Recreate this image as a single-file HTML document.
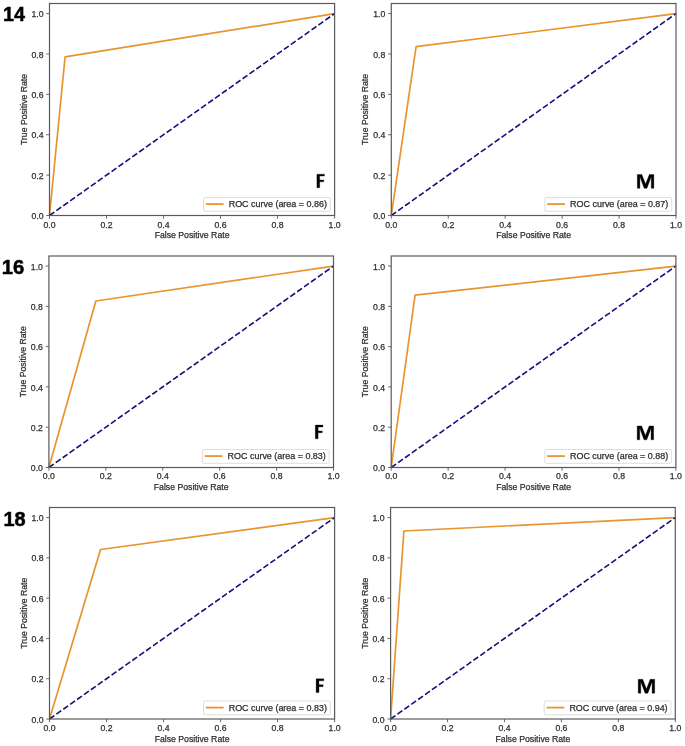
<!DOCTYPE html>
<html><head><meta charset="utf-8"><title>ROC curves</title>
<style>
html,body{margin:0;padding:0;background:#fff;}
body{width:685px;height:746px;overflow:hidden;}
svg{display:block;will-change:transform;}
svg text{font-family:"Liberation Sans",sans-serif;font-size:8.7px;fill:#2e2e2e;stroke:#2e2e2e;stroke-width:0.25px;}
svg text.big{font-weight:bold;fill:#000;stroke:#000;stroke-width:0.5px;}
</style></head><body>
<svg width="685" height="746" viewBox="0 0 685 746">
<rect width="685" height="746" fill="#fff"/>
<g><polyline points="49.5,215.5 65.1,56.9 334.6,13.60" fill="none" stroke="#e8942f" stroke-width="1.7" stroke-linejoin="round"/>
<line x1="49.5" y1="215.5" x2="334.6" y2="13.60" stroke="#10107a" stroke-width="1.6" stroke-dasharray="5.9 2.55"/>
<rect x="49.5" y="3.5" width="285.10" height="212.00" fill="none" stroke="#5a5a5a" stroke-width="1.2"/>
<line x1="49.50" y1="215.5" x2="49.50" y2="218.70" stroke="#5a5a5a" stroke-width="0.9"/>
<text x="49.50" y="227.50" text-anchor="middle">0.0</text>
<line x1="46.30" y1="215.50" x2="49.5" y2="215.50" stroke="#5a5a5a" stroke-width="0.9"/>
<text x="43.50" y="219.10" text-anchor="end">0.0</text>
<line x1="106.52" y1="215.5" x2="106.52" y2="218.70" stroke="#5a5a5a" stroke-width="0.9"/>
<text x="106.52" y="227.50" text-anchor="middle">0.2</text>
<line x1="46.30" y1="175.12" x2="49.5" y2="175.12" stroke="#5a5a5a" stroke-width="0.9"/>
<text x="43.50" y="178.72" text-anchor="end">0.2</text>
<line x1="163.54" y1="215.5" x2="163.54" y2="218.70" stroke="#5a5a5a" stroke-width="0.9"/>
<text x="163.54" y="227.50" text-anchor="middle">0.4</text>
<line x1="46.30" y1="134.74" x2="49.5" y2="134.74" stroke="#5a5a5a" stroke-width="0.9"/>
<text x="43.50" y="138.34" text-anchor="end">0.4</text>
<line x1="220.56" y1="215.5" x2="220.56" y2="218.70" stroke="#5a5a5a" stroke-width="0.9"/>
<text x="220.56" y="227.50" text-anchor="middle">0.6</text>
<line x1="46.30" y1="94.36" x2="49.5" y2="94.36" stroke="#5a5a5a" stroke-width="0.9"/>
<text x="43.50" y="97.96" text-anchor="end">0.6</text>
<line x1="277.58" y1="215.5" x2="277.58" y2="218.70" stroke="#5a5a5a" stroke-width="0.9"/>
<text x="277.58" y="227.50" text-anchor="middle">0.8</text>
<line x1="46.30" y1="53.98" x2="49.5" y2="53.98" stroke="#5a5a5a" stroke-width="0.9"/>
<text x="43.50" y="57.58" text-anchor="end">0.8</text>
<line x1="334.60" y1="215.5" x2="334.60" y2="218.70" stroke="#5a5a5a" stroke-width="0.9"/>
<text x="334.60" y="227.50" text-anchor="middle">1.0</text>
<line x1="46.30" y1="13.60" x2="49.5" y2="13.60" stroke="#5a5a5a" stroke-width="0.9"/>
<text x="43.50" y="17.20" text-anchor="end">1.0</text>
<text x="192.05" y="238.00" text-anchor="middle">False Positive Rate</text>
<text transform="translate(26.60,109.50) rotate(-90)" text-anchor="middle">True Positive Rate</text>
<rect x="203.50" y="197.50" width="126.80" height="13.80" rx="1.6" fill="#fff" fill-opacity="0.8" stroke="#d6d6d6" stroke-width="0.8"/>
<line x1="205.80" y1="204.10" x2="223.60" y2="204.10" stroke="#e8942f" stroke-width="1.8"/>
<text x="228.70" y="207.10" textLength="98.2" lengthAdjust="spacingAndGlyphs">ROC curve (area = 0.86)</text>
<path d="M316.90,174.15 L324.45,174.15 L324.45,176.11 L319.69,176.11 L319.69,179.92 L323.77,179.92 L323.77,181.87 L319.69,181.87 L319.69,187.75 L316.90,187.75Z" fill="#000" stroke="#000" stroke-width="0.3" stroke-linejoin="round"/>
<text class="big" x="2.92" y="20.75" textLength="21.98" lengthAdjust="spacingAndGlyphs" style="font-size:19.91px">14</text></g>
<g><polyline points="391.3,215.5 416.1,46.7 676.0,13.60" fill="none" stroke="#e8942f" stroke-width="1.7" stroke-linejoin="round"/>
<line x1="391.3" y1="215.5" x2="676.0" y2="13.60" stroke="#10107a" stroke-width="1.6" stroke-dasharray="5.9 2.55"/>
<rect x="391.3" y="3.5" width="284.70" height="212.00" fill="none" stroke="#5a5a5a" stroke-width="1.2"/>
<line x1="391.30" y1="215.5" x2="391.30" y2="218.70" stroke="#5a5a5a" stroke-width="0.9"/>
<text x="391.30" y="227.50" text-anchor="middle">0.0</text>
<line x1="388.10" y1="215.50" x2="391.3" y2="215.50" stroke="#5a5a5a" stroke-width="0.9"/>
<text x="385.30" y="219.10" text-anchor="end">0.0</text>
<line x1="448.24" y1="215.5" x2="448.24" y2="218.70" stroke="#5a5a5a" stroke-width="0.9"/>
<text x="448.24" y="227.50" text-anchor="middle">0.2</text>
<line x1="388.10" y1="175.12" x2="391.3" y2="175.12" stroke="#5a5a5a" stroke-width="0.9"/>
<text x="385.30" y="178.72" text-anchor="end">0.2</text>
<line x1="505.18" y1="215.5" x2="505.18" y2="218.70" stroke="#5a5a5a" stroke-width="0.9"/>
<text x="505.18" y="227.50" text-anchor="middle">0.4</text>
<line x1="388.10" y1="134.74" x2="391.3" y2="134.74" stroke="#5a5a5a" stroke-width="0.9"/>
<text x="385.30" y="138.34" text-anchor="end">0.4</text>
<line x1="562.12" y1="215.5" x2="562.12" y2="218.70" stroke="#5a5a5a" stroke-width="0.9"/>
<text x="562.12" y="227.50" text-anchor="middle">0.6</text>
<line x1="388.10" y1="94.36" x2="391.3" y2="94.36" stroke="#5a5a5a" stroke-width="0.9"/>
<text x="385.30" y="97.96" text-anchor="end">0.6</text>
<line x1="619.06" y1="215.5" x2="619.06" y2="218.70" stroke="#5a5a5a" stroke-width="0.9"/>
<text x="619.06" y="227.50" text-anchor="middle">0.8</text>
<line x1="388.10" y1="53.98" x2="391.3" y2="53.98" stroke="#5a5a5a" stroke-width="0.9"/>
<text x="385.30" y="57.58" text-anchor="end">0.8</text>
<line x1="676.00" y1="215.5" x2="676.00" y2="218.70" stroke="#5a5a5a" stroke-width="0.9"/>
<text x="676.00" y="227.50" text-anchor="middle">1.0</text>
<line x1="388.10" y1="13.60" x2="391.3" y2="13.60" stroke="#5a5a5a" stroke-width="0.9"/>
<text x="385.30" y="17.20" text-anchor="end">1.0</text>
<text x="533.65" y="238.00" text-anchor="middle">False Positive Rate</text>
<text transform="translate(368.40,109.50) rotate(-90)" text-anchor="middle">True Positive Rate</text>
<rect x="544.90" y="197.50" width="126.80" height="13.80" rx="1.6" fill="#fff" fill-opacity="0.8" stroke="#d6d6d6" stroke-width="0.8"/>
<line x1="547.20" y1="204.10" x2="565.00" y2="204.10" stroke="#e8942f" stroke-width="1.8"/>
<text x="570.10" y="207.10" textLength="98.2" lengthAdjust="spacingAndGlyphs">ROC curve (area = 0.87)</text>
<path d="M637.30,188.35 L637.30,174.45 L641.82,174.45 L645.58,184.04 L649.33,174.45 L653.85,174.45 L653.85,188.35 L651.25,188.35 L651.25,176.83 L646.98,188.35 L644.17,188.35 L639.90,176.83 L639.90,188.35Z" fill="#000" stroke="#000" stroke-width="0.3" stroke-linejoin="round"/></g>
<g><polyline points="48.9,467.5 95.86,301.0 333.5,266.07" fill="none" stroke="#e8942f" stroke-width="1.7" stroke-linejoin="round"/>
<line x1="48.9" y1="467.5" x2="333.5" y2="266.07" stroke="#10107a" stroke-width="1.6" stroke-dasharray="5.9 2.55"/>
<rect x="48.9" y="256.0" width="284.60" height="211.50" fill="none" stroke="#5a5a5a" stroke-width="1.2"/>
<line x1="48.90" y1="467.5" x2="48.90" y2="470.70" stroke="#5a5a5a" stroke-width="0.9"/>
<text x="48.90" y="478.70" text-anchor="middle">0.0</text>
<line x1="45.70" y1="467.50" x2="48.9" y2="467.50" stroke="#5a5a5a" stroke-width="0.9"/>
<text x="42.90" y="471.10" text-anchor="end">0.0</text>
<line x1="105.82" y1="467.5" x2="105.82" y2="470.70" stroke="#5a5a5a" stroke-width="0.9"/>
<text x="105.82" y="478.70" text-anchor="middle">0.2</text>
<line x1="45.70" y1="427.21" x2="48.9" y2="427.21" stroke="#5a5a5a" stroke-width="0.9"/>
<text x="42.90" y="430.81" text-anchor="end">0.2</text>
<line x1="162.74" y1="467.5" x2="162.74" y2="470.70" stroke="#5a5a5a" stroke-width="0.9"/>
<text x="162.74" y="478.70" text-anchor="middle">0.4</text>
<line x1="45.70" y1="386.93" x2="48.9" y2="386.93" stroke="#5a5a5a" stroke-width="0.9"/>
<text x="42.90" y="390.53" text-anchor="end">0.4</text>
<line x1="219.66" y1="467.5" x2="219.66" y2="470.70" stroke="#5a5a5a" stroke-width="0.9"/>
<text x="219.66" y="478.70" text-anchor="middle">0.6</text>
<line x1="45.70" y1="346.64" x2="48.9" y2="346.64" stroke="#5a5a5a" stroke-width="0.9"/>
<text x="42.90" y="350.24" text-anchor="end">0.6</text>
<line x1="276.58" y1="467.5" x2="276.58" y2="470.70" stroke="#5a5a5a" stroke-width="0.9"/>
<text x="276.58" y="478.70" text-anchor="middle">0.8</text>
<line x1="45.70" y1="306.36" x2="48.9" y2="306.36" stroke="#5a5a5a" stroke-width="0.9"/>
<text x="42.90" y="309.96" text-anchor="end">0.8</text>
<line x1="333.50" y1="467.5" x2="333.50" y2="470.70" stroke="#5a5a5a" stroke-width="0.9"/>
<text x="333.50" y="478.70" text-anchor="middle">1.0</text>
<line x1="45.70" y1="266.07" x2="48.9" y2="266.07" stroke="#5a5a5a" stroke-width="0.9"/>
<text x="42.90" y="269.67" text-anchor="end">1.0</text>
<text x="191.20" y="489.50" text-anchor="middle">False Positive Rate</text>
<text transform="translate(26.00,361.75) rotate(-90)" text-anchor="middle">True Positive Rate</text>
<rect x="202.40" y="449.50" width="126.80" height="13.80" rx="1.6" fill="#fff" fill-opacity="0.8" stroke="#d6d6d6" stroke-width="0.8"/>
<line x1="204.70" y1="456.10" x2="222.50" y2="456.10" stroke="#e8942f" stroke-width="1.8"/>
<text x="227.60" y="459.10" textLength="98.2" lengthAdjust="spacingAndGlyphs">ROC curve (area = 0.83)</text>
<path d="M315.30,425.10 L322.95,425.10 L322.95,427.07 L318.12,427.07 L318.12,430.89 L322.26,430.89 L322.26,432.85 L318.12,432.85 L318.12,438.75 L315.30,438.75Z" fill="#000" stroke="#000" stroke-width="0.3" stroke-linejoin="round"/>
<text class="big" x="1.84" y="273.85" textLength="22.58" lengthAdjust="spacingAndGlyphs" style="font-size:20.34px">16</text></g>
<g><polyline points="391.2,467.5 415.1,295.2 675.9,266.07" fill="none" stroke="#e8942f" stroke-width="1.7" stroke-linejoin="round"/>
<line x1="391.2" y1="467.5" x2="675.9" y2="266.07" stroke="#10107a" stroke-width="1.6" stroke-dasharray="5.9 2.55"/>
<rect x="391.2" y="256.0" width="284.70" height="211.50" fill="none" stroke="#5a5a5a" stroke-width="1.2"/>
<line x1="391.20" y1="467.5" x2="391.20" y2="470.70" stroke="#5a5a5a" stroke-width="0.9"/>
<text x="391.20" y="478.70" text-anchor="middle">0.0</text>
<line x1="388.00" y1="467.50" x2="391.2" y2="467.50" stroke="#5a5a5a" stroke-width="0.9"/>
<text x="385.20" y="471.10" text-anchor="end">0.0</text>
<line x1="448.14" y1="467.5" x2="448.14" y2="470.70" stroke="#5a5a5a" stroke-width="0.9"/>
<text x="448.14" y="478.70" text-anchor="middle">0.2</text>
<line x1="388.00" y1="427.21" x2="391.2" y2="427.21" stroke="#5a5a5a" stroke-width="0.9"/>
<text x="385.20" y="430.81" text-anchor="end">0.2</text>
<line x1="505.08" y1="467.5" x2="505.08" y2="470.70" stroke="#5a5a5a" stroke-width="0.9"/>
<text x="505.08" y="478.70" text-anchor="middle">0.4</text>
<line x1="388.00" y1="386.93" x2="391.2" y2="386.93" stroke="#5a5a5a" stroke-width="0.9"/>
<text x="385.20" y="390.53" text-anchor="end">0.4</text>
<line x1="562.02" y1="467.5" x2="562.02" y2="470.70" stroke="#5a5a5a" stroke-width="0.9"/>
<text x="562.02" y="478.70" text-anchor="middle">0.6</text>
<line x1="388.00" y1="346.64" x2="391.2" y2="346.64" stroke="#5a5a5a" stroke-width="0.9"/>
<text x="385.20" y="350.24" text-anchor="end">0.6</text>
<line x1="618.96" y1="467.5" x2="618.96" y2="470.70" stroke="#5a5a5a" stroke-width="0.9"/>
<text x="618.96" y="478.70" text-anchor="middle">0.8</text>
<line x1="388.00" y1="306.36" x2="391.2" y2="306.36" stroke="#5a5a5a" stroke-width="0.9"/>
<text x="385.20" y="309.96" text-anchor="end">0.8</text>
<line x1="675.90" y1="467.5" x2="675.90" y2="470.70" stroke="#5a5a5a" stroke-width="0.9"/>
<text x="675.90" y="478.70" text-anchor="middle">1.0</text>
<line x1="388.00" y1="266.07" x2="391.2" y2="266.07" stroke="#5a5a5a" stroke-width="0.9"/>
<text x="385.20" y="269.67" text-anchor="end">1.0</text>
<text x="533.55" y="489.50" text-anchor="middle">False Positive Rate</text>
<text transform="translate(368.30,361.75) rotate(-90)" text-anchor="middle">True Positive Rate</text>
<rect x="544.80" y="449.50" width="126.80" height="13.80" rx="1.6" fill="#fff" fill-opacity="0.8" stroke="#d6d6d6" stroke-width="0.8"/>
<line x1="547.10" y1="456.10" x2="564.90" y2="456.10" stroke="#e8942f" stroke-width="1.8"/>
<text x="570.00" y="459.10" textLength="98.2" lengthAdjust="spacingAndGlyphs">ROC curve (area = 0.88)</text>
<path d="M637.15,439.85 L637.15,425.95 L641.65,425.95 L645.40,435.54 L649.15,425.95 L653.65,425.95 L653.65,439.85 L651.06,439.85 L651.06,428.33 L646.80,439.85 L644.00,439.85 L639.74,428.33 L639.74,439.85Z" fill="#000" stroke="#000" stroke-width="0.3" stroke-linejoin="round"/></g>
<g><polyline points="49.5,719.0 100.55,549.5 334.6,517.57" fill="none" stroke="#e8942f" stroke-width="1.7" stroke-linejoin="round"/>
<line x1="49.5" y1="719.0" x2="334.6" y2="517.57" stroke="#10107a" stroke-width="1.6" stroke-dasharray="5.9 2.55"/>
<rect x="49.5" y="507.5" width="285.10" height="211.50" fill="none" stroke="#5a5a5a" stroke-width="1.2"/>
<line x1="49.50" y1="719.0" x2="49.50" y2="722.20" stroke="#5a5a5a" stroke-width="0.9"/>
<text x="49.50" y="731.00" text-anchor="middle">0.0</text>
<line x1="46.30" y1="719.00" x2="49.5" y2="719.00" stroke="#5a5a5a" stroke-width="0.9"/>
<text x="43.50" y="722.60" text-anchor="end">0.0</text>
<line x1="106.52" y1="719.0" x2="106.52" y2="722.20" stroke="#5a5a5a" stroke-width="0.9"/>
<text x="106.52" y="731.00" text-anchor="middle">0.2</text>
<line x1="46.30" y1="678.71" x2="49.5" y2="678.71" stroke="#5a5a5a" stroke-width="0.9"/>
<text x="43.50" y="682.31" text-anchor="end">0.2</text>
<line x1="163.54" y1="719.0" x2="163.54" y2="722.20" stroke="#5a5a5a" stroke-width="0.9"/>
<text x="163.54" y="731.00" text-anchor="middle">0.4</text>
<line x1="46.30" y1="638.43" x2="49.5" y2="638.43" stroke="#5a5a5a" stroke-width="0.9"/>
<text x="43.50" y="642.03" text-anchor="end">0.4</text>
<line x1="220.56" y1="719.0" x2="220.56" y2="722.20" stroke="#5a5a5a" stroke-width="0.9"/>
<text x="220.56" y="731.00" text-anchor="middle">0.6</text>
<line x1="46.30" y1="598.14" x2="49.5" y2="598.14" stroke="#5a5a5a" stroke-width="0.9"/>
<text x="43.50" y="601.74" text-anchor="end">0.6</text>
<line x1="277.58" y1="719.0" x2="277.58" y2="722.20" stroke="#5a5a5a" stroke-width="0.9"/>
<text x="277.58" y="731.00" text-anchor="middle">0.8</text>
<line x1="46.30" y1="557.86" x2="49.5" y2="557.86" stroke="#5a5a5a" stroke-width="0.9"/>
<text x="43.50" y="561.46" text-anchor="end">0.8</text>
<line x1="334.60" y1="719.0" x2="334.60" y2="722.20" stroke="#5a5a5a" stroke-width="0.9"/>
<text x="334.60" y="731.00" text-anchor="middle">1.0</text>
<line x1="46.30" y1="517.57" x2="49.5" y2="517.57" stroke="#5a5a5a" stroke-width="0.9"/>
<text x="43.50" y="521.17" text-anchor="end">1.0</text>
<text x="192.05" y="741.50" text-anchor="middle">False Positive Rate</text>
<text transform="translate(26.60,613.25) rotate(-90)" text-anchor="middle">True Positive Rate</text>
<rect x="203.50" y="701.00" width="126.80" height="13.80" rx="1.6" fill="#fff" fill-opacity="0.8" stroke="#d6d6d6" stroke-width="0.8"/>
<line x1="205.80" y1="707.60" x2="223.60" y2="707.60" stroke="#e8942f" stroke-width="1.8"/>
<text x="228.70" y="710.60" textLength="98.2" lengthAdjust="spacingAndGlyphs">ROC curve (area = 0.83)</text>
<path d="M316.13,678.80 L323.80,678.80 L323.80,680.79 L318.96,680.79 L318.96,684.65 L323.11,684.65 L323.11,686.64 L318.96,686.64 L318.96,692.60 L316.13,692.60Z" fill="#000" stroke="#000" stroke-width="0.3" stroke-linejoin="round"/>
<text class="big" x="3.41" y="525.55" textLength="22.17" lengthAdjust="spacingAndGlyphs" style="font-size:19.63px">18</text></g>
<g><polyline points="390.6,719.0 403.9,531.0 675.3,517.57" fill="none" stroke="#e8942f" stroke-width="1.7" stroke-linejoin="round"/>
<line x1="390.6" y1="719.0" x2="675.3" y2="517.57" stroke="#10107a" stroke-width="1.6" stroke-dasharray="5.9 2.55"/>
<rect x="390.6" y="507.5" width="284.70" height="211.50" fill="none" stroke="#5a5a5a" stroke-width="1.2"/>
<line x1="390.60" y1="719.0" x2="390.60" y2="722.20" stroke="#5a5a5a" stroke-width="0.9"/>
<text x="390.60" y="731.00" text-anchor="middle">0.0</text>
<line x1="387.40" y1="719.00" x2="390.6" y2="719.00" stroke="#5a5a5a" stroke-width="0.9"/>
<text x="384.60" y="722.60" text-anchor="end">0.0</text>
<line x1="447.54" y1="719.0" x2="447.54" y2="722.20" stroke="#5a5a5a" stroke-width="0.9"/>
<text x="447.54" y="731.00" text-anchor="middle">0.2</text>
<line x1="387.40" y1="678.71" x2="390.6" y2="678.71" stroke="#5a5a5a" stroke-width="0.9"/>
<text x="384.60" y="682.31" text-anchor="end">0.2</text>
<line x1="504.48" y1="719.0" x2="504.48" y2="722.20" stroke="#5a5a5a" stroke-width="0.9"/>
<text x="504.48" y="731.00" text-anchor="middle">0.4</text>
<line x1="387.40" y1="638.43" x2="390.6" y2="638.43" stroke="#5a5a5a" stroke-width="0.9"/>
<text x="384.60" y="642.03" text-anchor="end">0.4</text>
<line x1="561.42" y1="719.0" x2="561.42" y2="722.20" stroke="#5a5a5a" stroke-width="0.9"/>
<text x="561.42" y="731.00" text-anchor="middle">0.6</text>
<line x1="387.40" y1="598.14" x2="390.6" y2="598.14" stroke="#5a5a5a" stroke-width="0.9"/>
<text x="384.60" y="601.74" text-anchor="end">0.6</text>
<line x1="618.36" y1="719.0" x2="618.36" y2="722.20" stroke="#5a5a5a" stroke-width="0.9"/>
<text x="618.36" y="731.00" text-anchor="middle">0.8</text>
<line x1="387.40" y1="557.86" x2="390.6" y2="557.86" stroke="#5a5a5a" stroke-width="0.9"/>
<text x="384.60" y="561.46" text-anchor="end">0.8</text>
<line x1="675.30" y1="719.0" x2="675.30" y2="722.20" stroke="#5a5a5a" stroke-width="0.9"/>
<text x="675.30" y="731.00" text-anchor="middle">1.0</text>
<line x1="387.40" y1="517.57" x2="390.6" y2="517.57" stroke="#5a5a5a" stroke-width="0.9"/>
<text x="384.60" y="521.17" text-anchor="end">1.0</text>
<text x="532.95" y="741.50" text-anchor="middle">False Positive Rate</text>
<text transform="translate(367.70,613.25) rotate(-90)" text-anchor="middle">True Positive Rate</text>
<rect x="544.20" y="701.00" width="126.80" height="13.80" rx="1.6" fill="#fff" fill-opacity="0.8" stroke="#d6d6d6" stroke-width="0.8"/>
<line x1="546.50" y1="707.60" x2="564.30" y2="707.60" stroke="#e8942f" stroke-width="1.8"/>
<text x="569.40" y="710.60" textLength="98.2" lengthAdjust="spacingAndGlyphs">ROC curve (area = 0.94)</text>
<path d="M638.20,693.20 L638.20,679.30 L642.70,679.30 L646.45,688.89 L650.20,679.30 L654.70,679.30 L654.70,693.20 L652.11,693.20 L652.11,681.68 L647.85,693.20 L645.05,693.20 L640.79,681.68 L640.79,693.20Z" fill="#000" stroke="#000" stroke-width="0.3" stroke-linejoin="round"/></g>
</svg>
</body></html>
